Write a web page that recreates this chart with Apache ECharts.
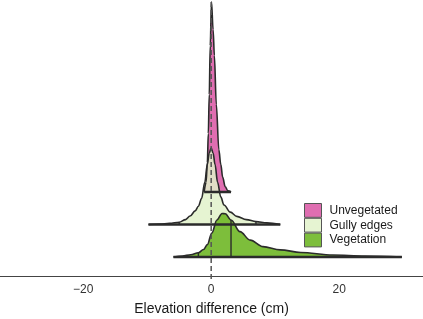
<!DOCTYPE html>
<html><head><meta charset="utf-8">
<script src="https://cdn.jsdelivr.net/npm/echarts@6/dist/echarts.min.js"></script>
<style>html,body{margin:0;padding:0;background:#fff}#c{width:423px;height:319px}</style>
</head><body><div id="c"></div>
<script>
// ---- data (x in cm, heights in ridge units above each baseline) ----
const categories = ['Vegetation', 'Gully edges', 'Unvegetated']; // baselines 1,2,3
const baselines = [1, 2, 3];
const tickLabels = [-20, 0, 20];

const vegX = [-5.9, -4.5, -3.2, -2.0, -1.2, -0.6, 0.1, 0.9, 1.7, 2.2, 3.1, 4.5, 6.1, 8.1, 10.8, 14, 19, 24, 29.8];
const vegH = [0, 0.03, 0.07, 0.13, 0.23, 0.38, 0.74, 1.14, 1.34, 1.33, 1.14, 0.78, 0.52, 0.32, 0.22, 0.14, 0.06, 0.03, 0];
const vegQ = [-2.0, 3.1];

const gullyX = [-9.8, -8, -6.5, -5.0, -4.0, -3.3, -2.5, -2.0, -1.5, -1.0, -0.6, -0.3, 0, 0.3, 0.6, 1.0, 1.5, 2.0, 3.0, 4.0, 5.5, 7.0, 8.7, 10.8];
const gullyH = [0, 0.015, 0.035, 0.07, 0.15, 0.26, 0.42, 0.56, 0.8, 1.3, 1.85, 2.2, 2.35, 2.2, 1.85, 1.3, 0.85, 0.6, 0.38, 0.25, 0.15, 0.09, 0.05, 0];
const gullyQ = [-5.0, 7.0];

const unvegX = [-1.1, -0.8, -0.6, -0.45, -0.3, -0.15, 0.05, 0.3, 0.5, 0.8, 1.2, 1.5, 1.8, 2.2, 2.6, 3.1];
const unvegH = [0, 0.3, 0.9, 1.8, 3.0, 4.5, 5.85, 5.0, 4.2, 2.7, 1.3, 0.85, 0.45, 0.16, 0.04, 0];
const unvegQ = [];

// ---- styles ----
const FONT = 'Liberation Sans, Arial, Helvetica, sans-serif';
const OUT = '#2b2b2b';
const ridges = [
  {name: 'Unvegetated', base: 3, xs: unvegX, hs: unvegH, qs: unvegQ, fill: '#DF6EB1', op: 1, legend: '#DF6EB1'},
  {name: 'Gully edges', base: 2, xs: gullyX, hs: gullyH, qs: gullyQ, fill: '#E2F2CA', op: 0.85, legend: '#E6F4D2'},
  {name: 'Vegetation', base: 1, xs: vegX, hs: vegH, qs: vegQ, fill: '#6FB726', op: 0.9, legend: '#7DBE3C'}
];

const series = [];
ridges.forEach(r => {
  series.push({
    name: r.name, type: 'line', smooth: 0.35, smoothMonotone: 'x', symbol: 'none',
    data: r.xs.map((x, i) => [x, r.base + r.hs[i]]),
    lineStyle: {color: OUT, width: 1.6},
    itemStyle: {color: r.legend},
    areaStyle: {color: r.fill, opacity: r.op, origin: r.base},
    silent: true
  });
  series.push({
    name: r.name + ' base', type: 'line', symbol: 'none', silent: true,
    data: [[r.xs[0], r.base], [r.xs[r.xs.length - 1], r.base]],
    lineStyle: {color: OUT, width: 2.4}
  });
  r.qs.forEach(q => {
    const idx = r.xs.indexOf(q);
    series.push({
      name: r.name + ' q', type: 'line', symbol: 'none', silent: true,
      data: [[q, r.base], [q, r.base + r.hs[idx]]],
      lineStyle: {color: OUT, width: 1.4}
    });
  });
});
series.push({
  name: 'zero', type: 'line', symbol: 'none', silent: true, clip: false, z: 5,
  data: [[0, 0.32], [0, 8.86]],
  lineStyle: {color: '#555', width: 1.5, type: [5, 3]}
});

const chart = echarts.init(document.getElementById('c'), null, {renderer: 'canvas'});
chart.setOption({
  animation: false,
  backgroundColor: '#fff',
  textStyle: {fontFamily: FONT},
  grid: {left: 0, right: 0, top: 0, bottom: 42.4, containLabel: false, outerBoundsMode: 'none'},
  xAxis: {
    type: 'value', min: -33, max: 33.1, interval: 1,
    name: 'Elevation difference (cm)', nameLocation: 'middle', nameGap: 26,
    nameTextStyle: {fontSize: 14, color: '#1a1a1a', fontFamily: FONT},
    axisLine: {show: true, lineStyle: {color: '#444', width: 1}},
    axisTick: {show: false},
    splitLine: {show: false},
    axisLabel: {
      fontSize: 12, color: '#333', margin: 7, fontFamily: FONT, showMinLabel: true, showMaxLabel: true,
      formatter: v => tickLabels.indexOf(Math.round(v)) >= 0 && Math.abs(v - Math.round(v)) < 1e-6
        ? (v < 0 ? '\u2212' + Math.abs(Math.round(v)) : String(Math.round(v))) : ''
    }
  },
  yAxis: {type: 'value', min: 0.397, max: 8.908, show: false},
  legend: {
    orient: 'vertical', left: 304, top: 203, padding: 0, itemWidth: 17, itemHeight: 13.8, itemGap: 0,
    icon: 'rect', selectedMode: false,
    itemStyle: {borderColor: '#555', borderWidth: 1},
    textStyle: {fontSize: 12, color: '#1a1a1a', fontFamily: FONT, lineHeight: 14, padding: [0, 0, 0, 3]},
    data: ridges.map(r => ({name: r.name, itemStyle: {color: r.legend}}))
  },
  series: series
});
</script></body></html>
